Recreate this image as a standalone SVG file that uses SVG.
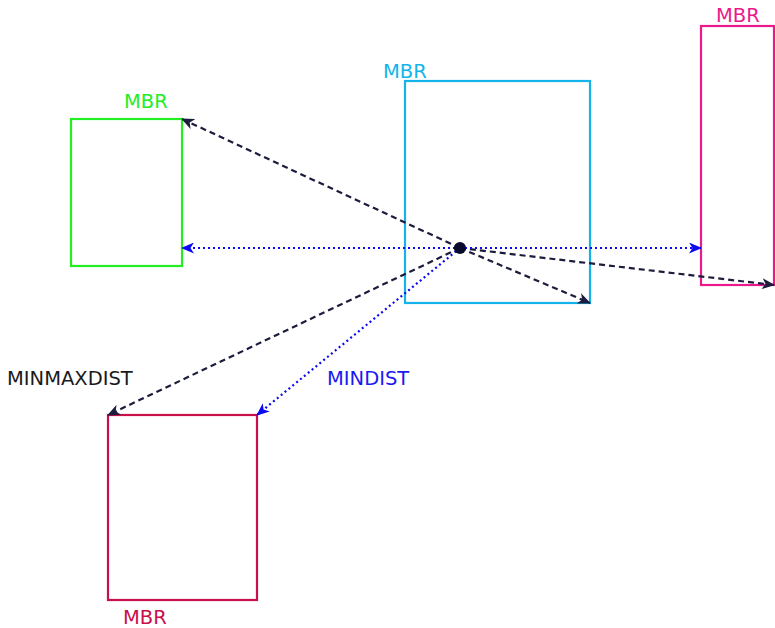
<svg xmlns="http://www.w3.org/2000/svg" width="775" height="628" viewBox="0 0 775 628">
<style>
text{font-family:"DejaVu Sans","Verdana",sans-serif;font-size:19.5px}
.box{fill:none;stroke-width:2.2}
.dash{stroke:#1c1c3c;stroke-width:2.2;stroke-dasharray:6 4;fill:none;marker-end:url(#ah)}
.dot{stroke:#0a0af0;stroke-width:2.2;stroke-dasharray:2 3;fill:none;marker-end:url(#ab)}
</style>
<defs>
<marker id="ah" markerUnits="userSpaceOnUse" markerWidth="13" markerHeight="11" refX="12" refY="5.5" orient="auto" viewBox="0 0 13 11">
<path d="M0,0 L13,5.5 L0,11 L3.5,5.5 z" fill="#1c1c3c"/>
</marker>
<marker id="ab" markerUnits="userSpaceOnUse" markerWidth="13" markerHeight="11" refX="12" refY="5.5" orient="auto" viewBox="0 0 13 11">
<path d="M0,0 L13,5.5 L0,11 L3.5,5.5 z" fill="#0a0af0"/>
</marker>
</defs>
<g id="mbr-green">
<rect class="box" x="71" y="119" width="111" height="147" stroke="#22ee22"/>
<text x="124" y="108" fill="#22ee22">MBR</text>
</g>
<g id="mbr-blue">
<rect class="box" x="405" y="81" width="185" height="222" stroke="#14b4ea"/>
<text x="383" y="78" fill="#14b4ea">MBR</text>
</g>
<g id="mbr-pink">
<rect class="box" x="701" y="26" width="73" height="259" stroke="#ea1a8c"/>
<text x="716" y="22" fill="#ea1a8c">MBR</text>
</g>
<g id="mbr-crimson">
<rect class="box" x="108" y="415" width="149" height="185" stroke="#c8104a"/>
<text x="123" y="624" fill="#c8104a">MBR</text>
</g>
<g id="labels">
<text x="7" y="385" fill="#1a1a1a">MINMAXDIST</text>
<text x="327" y="385" fill="#1a1af0">MINDIST</text>
</g>
<g id="connectors">
<line class="dash" x1="460" y1="248" x2="182" y2="119"/>
<line class="dash" x1="460" y1="248" x2="590" y2="303"/>
<line class="dash" x1="460" y1="248" x2="774" y2="285"/>
<line class="dash" x1="460" y1="248" x2="108" y2="415"/>
<line class="dot" x1="460" y1="248" x2="182" y2="248"/>
<line class="dot" x1="460" y1="248" x2="701" y2="248"/>
<line class="dot" x1="460" y1="248" x2="257" y2="415"/>
</g>
<g id="query-point">
<circle cx="460" cy="248" r="6" fill="#0a0a2a"/>
</g>
</svg>
